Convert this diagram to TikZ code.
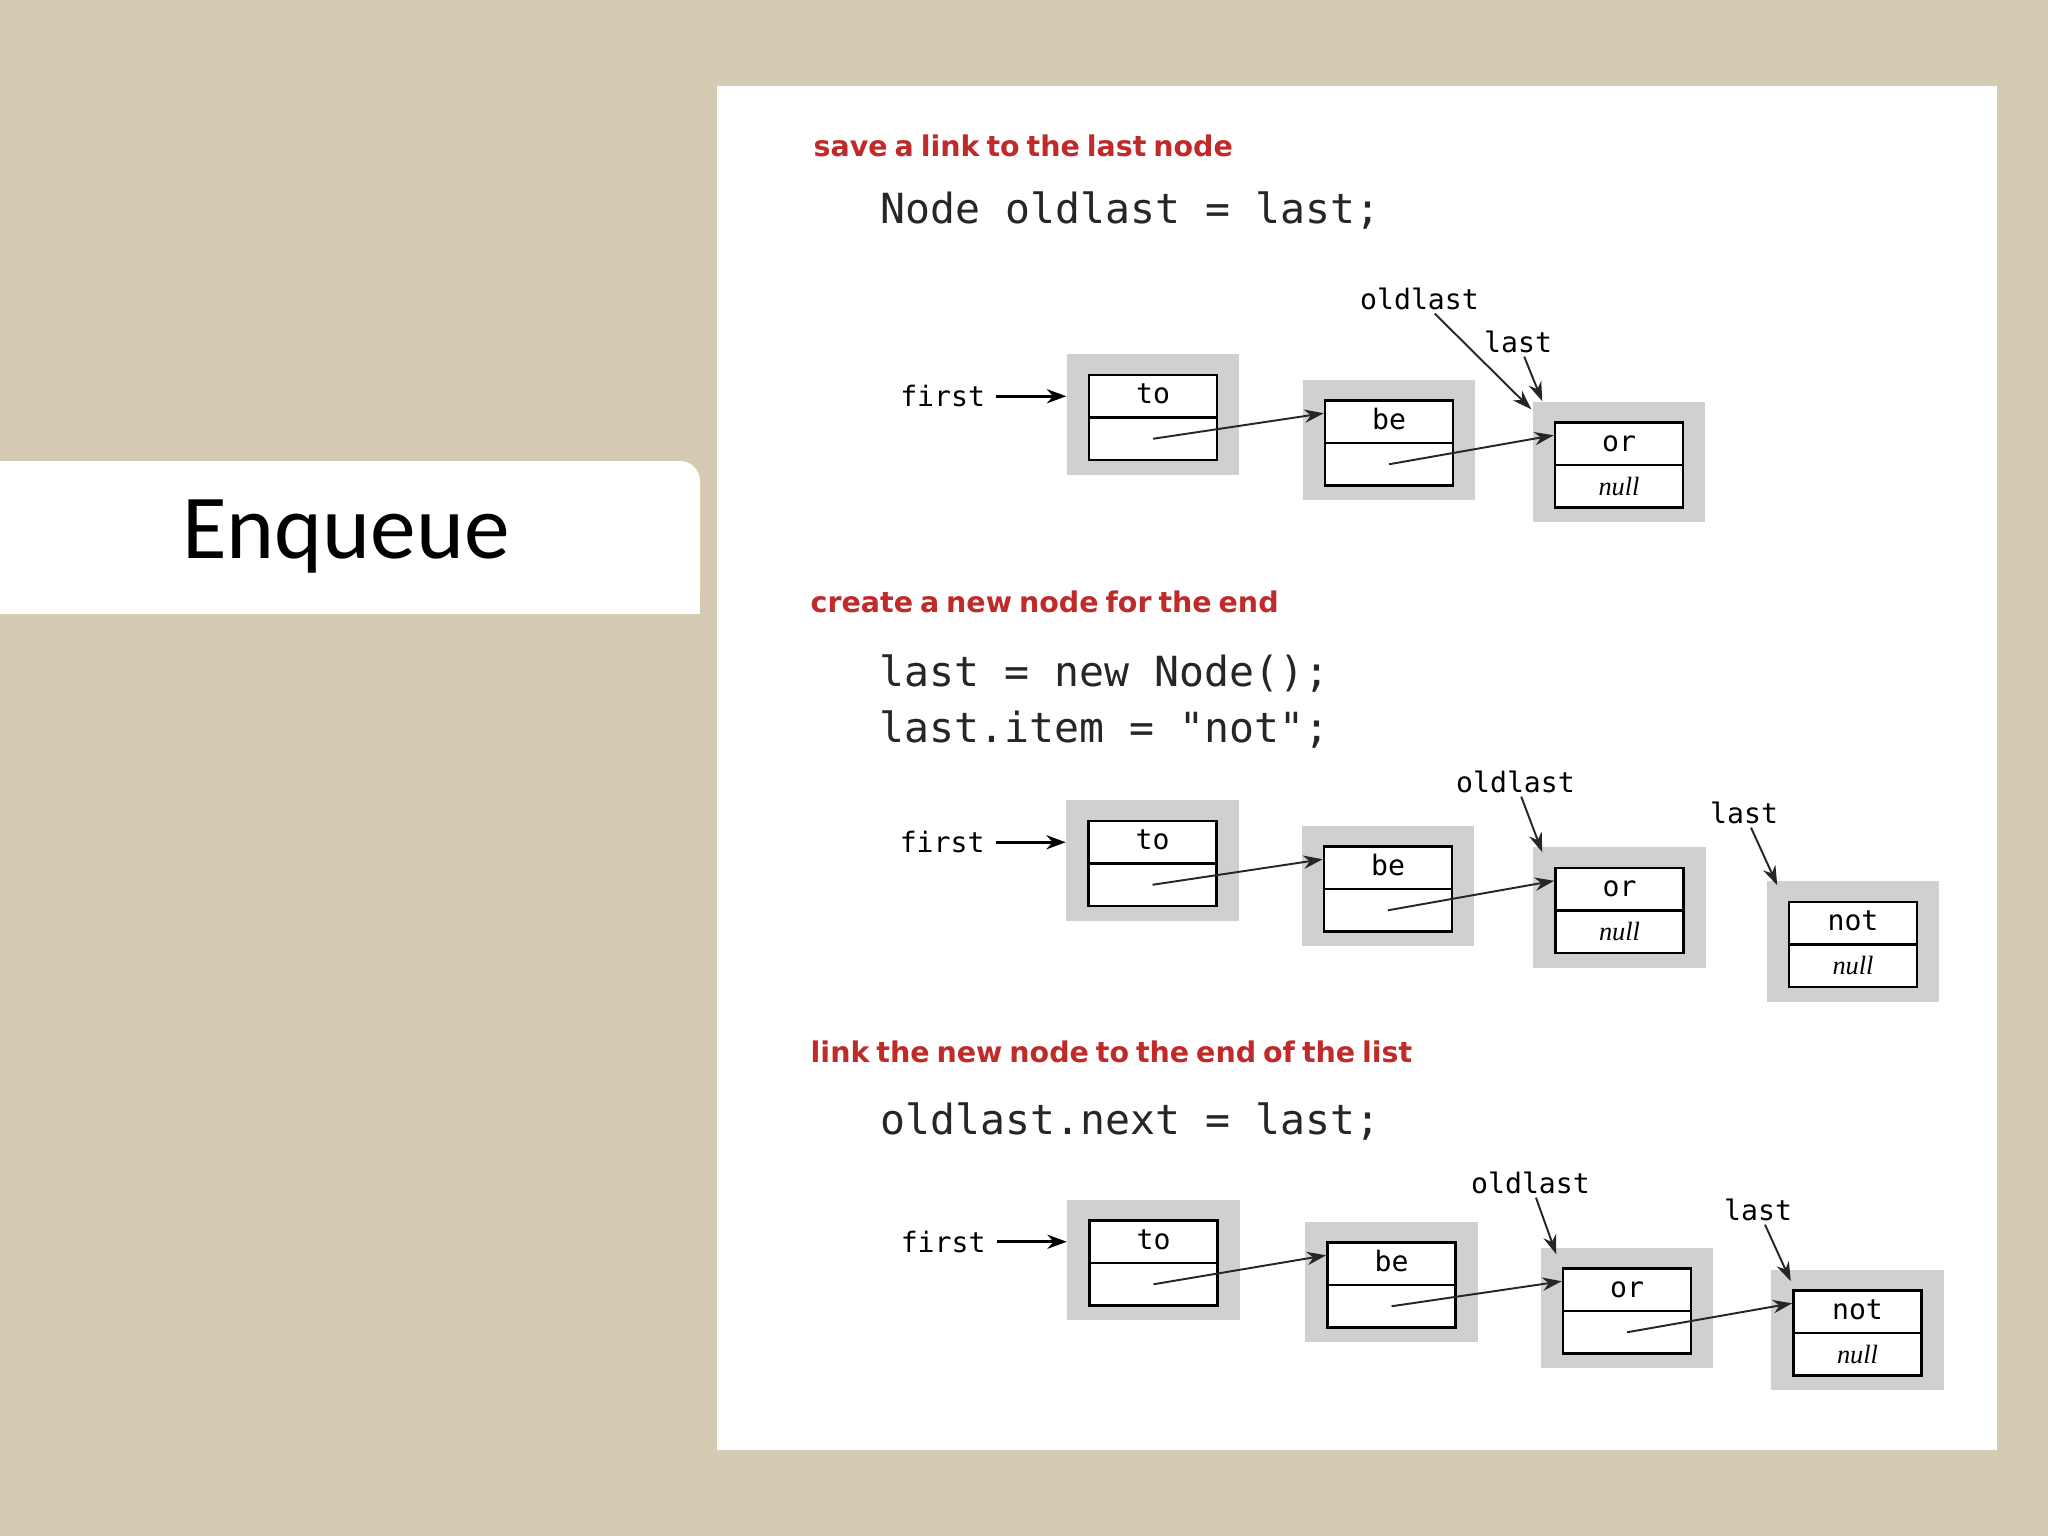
\documentclass[tikz,border=0pt]{standalone}
\usepackage{fontspec}
\setmainfont{Carlito}
\setmonofont{DejaVu Sans Mono}
\newfontfamily\headfont[WordSpace=0.7]{DejaVu Sans Bold}
\newfontfamily\nilfont{Liberation Serif}
\usetikzlibrary{arrows.meta,positioning}

\definecolor{linen}{RGB}{213,203,178}
\definecolor{cellgray}{RGB}{207,208,210}
\definecolor{headred}{RGB}{192,42,40}

\tikzset{
  shadebox/.style={fill=cellgray, minimum width=1.72cm, minimum height=1.2cm, inner sep=0pt},
  cellbox/.style={draw, line width=0.7pt, fill=white, minimum width=1.28cm, minimum height=0.85cm, inner sep=0pt},
  itemtext/.style={font=\ttfamily\fontsize{8}{9}\selectfont, inner sep=0pt, text height=4.4pt, text depth=0pt},
  niltext/.style={font=\nilfont\itshape\fontsize{7.5}{9}\selectfont, inner sep=0pt, text height=5pt, text depth=0pt},
  reflabel/.style={font=\ttfamily\fontsize{8}{9}\selectfont, inner sep=1pt, anchor=base west},
  heading/.style={font=\headfont\fontsize{8.1}{9}\selectfont, text=headred, inner sep=0pt, anchor=base west},
  codeline/.style={font=\ttfamily\fontsize{11.8}{14}\selectfont, text=black!85, inner sep=0pt, anchor=base west},
  ptr/.style={-{Stealth[length=5.5pt,width=3.8pt]}, line width=0.55pt, black!85},
  firstptr/.style={-{Stealth[length=5.5pt,width=4pt]}, line width=0.9pt, shorten <=2pt},
}

% one list node: shaded frame, item field and next field
\newcommand\listnode[4]{%
  \node[shadebox, yshift=0.03cm] (#1-g) at (#2) {};
  \node[cellbox] (#1) at (#2) {};
  \draw[line width=0.7pt] (#1.west) -- (#1.east);
  \coordinate (#1-top) at ([yshift=0.2125cm]#1.center);
  \coordinate (#1-next) at ([yshift=-0.2125cm]#1.center);
  \coordinate (#1-in) at ([yshift=-0.14cm]#1.north west);
  \node[itemtext] (#1-item) at (#1-top) {#3};
  \node[niltext] (#1-nil) at (#1-next) {#4};
}

\begin{document}
\begin{tikzpicture}[x=0.01cm, y=-0.01cm]
  \useasboundingbox (0,0) rectangle (2048,1536);
  \fill[linen] (0,0) rectangle (2048,1536);
  \fill[white] (717,86) rectangle (1997,1450);
  \fill[white, rounded corners=0.2cm] (-40,461) rectangle (700,614);
  \fill[white] (640,560) rectangle (700,614);
  \node[font=\fontsize{26}{30}\selectfont, anchor=base, inner sep=0pt] (title) at (346,558) {Enqueue};

  % save a link to the last node
  \node[heading] (head1) at (813,156) {save a link to the last node};
  \node[codeline] (code1) at (880,223) {Node oldlast = last;};
  \listnode{to1}{1153,417.5}{to}{}
  \listnode{be1}{1389,443}{be}{}
  \listnode{or1}{1619,465}{or}{null}
  \node[reflabel, anchor=east] (first1) at ([xshift=-0.77cm]to1-g.west |- to1-top) {first};
  \node[reflabel] (oldlast1) at (1356,309) {oldlast};
  \node[reflabel] (last1) at (1480,352) {last};
  \draw[firstptr] (first1) -- (to1-g.west |- to1-top);
  \draw[ptr] (to1-next) -- (be1-in);
  \draw[ptr] (be1-next) -- (or1-in);
  \draw[ptr] (oldlast1) -- ([shift={(-0.01cm,-0.08cm)}]or1-g.north west);
  \draw[ptr] (last1) -- ([shift={(0.1cm,0cm)}]or1-g.north west);

  % create a new node for the end
  \node[heading] (head2) at (810,612) {create a new node for the end};
  \node[codeline] (code2) at (879,686) {last = new Node();};
  \node[codeline] (code3) at (879,742) {last.item = "not";};
  \listnode{to2}{1152.5,863.5}{to}{}
  \listnode{be2}{1388,889}{be}{}
  \listnode{or2}{1619.5,910.5}{or}{null}
  \listnode{not2}{1853,944.5}{not}{null}
  \node[reflabel, anchor=east] (first2) at ([xshift=-0.77cm]to2-g.west |- to2-top) {first};
  \node[reflabel] (oldlast2) at (1452,792) {oldlast};
  \node[reflabel] (last2) at (1706,823) {last};
  \draw[firstptr] (first2) -- (to2-g.west |- to2-top);
  \draw[ptr] (to2-next) -- (be2-in);
  \draw[ptr] (be2-next) -- (or2-in);
  \draw[ptr] (oldlast2) -- ([shift={(0.095cm,-0.055cm)}]or2-g.north west);
  \draw[ptr] (last2) -- ([shift={(0.11cm,-0.045cm)}]not2-g.north west);

  % link the new node to the end of the list
  \node[heading] (head3) at (810,1062) {link the new node to the end of the list};
  \node[codeline] (code4) at (880,1134) {oldlast.next = last;};
  \listnode{to3}{1153.5,1263}{to}{}
  \listnode{be3}{1391.5,1285}{be}{}
  \listnode{or3}{1627,1311}{or}{}
  \listnode{not3}{1857.5,1333}{not}{null}
  \node[reflabel, anchor=east] (first3) at ([xshift=-0.77cm]to3-g.west |- to3-top) {first};
  \node[reflabel] (oldlast3) at (1467,1193) {oldlast};
  \node[reflabel] (last3) at (1720,1220) {last};
  \draw[firstptr] (first3) -- (to3-g.west |- to3-top);
  \draw[ptr] (to3-next) -- (be3-in);
  \draw[ptr] (be3-next) -- (or3-in);
  \draw[ptr] (or3-next) -- (not3-in);
  \draw[ptr] (oldlast3) -- ([shift={(0.16cm,-0.07cm)}]or3-g.north west);
  \draw[ptr] (last3) -- ([shift={(0.2cm,-0.12cm)}]not3-g.north west);
\end{tikzpicture}
\end{document}
